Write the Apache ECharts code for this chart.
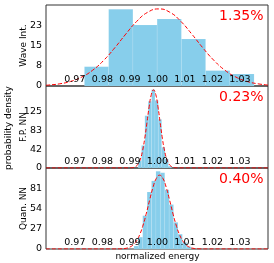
<!DOCTYPE html>
<html>
<head>
<meta charset="utf-8">
<script src="https://cdn.jsdelivr.net/npm/echarts@6/dist/echarts.min.js"></script>
<style>html,body{margin:0;padding:0;background:#fff}#c{width:274px;height:263px}</style>
</head>
<body>
<div id="c"></div>
<script>
// ---- data ----
const energyTicks = [0.97, 0.98, 0.99, 1.00, 1.01, 1.02, 1.03];
const panelNames = ['Wave Int.', 'F.P. NN', 'Quan. NN'];
const panelErrors = ['1.35%', '0.23%', '0.40%'];

const waveTicks = [0, 7.667, 15.333, 23];
const fpTicks = [0, 41.667, 83.333, 125];
const quanTicks = [0, 27, 54, 81];

const waveBinEdges = [0.97347, 0.98228, 0.99109, 0.99990, 1.00871, 1.01752, 1.02633, 1.03514];
const waveDensity = [7.4, 29.4, 23.4, 25.7, 18.0, 5.9, 4.6];

const fpBinEdges = [0.99300, 0.99422, 0.99544, 0.99666, 0.99788, 0.99910, 1.00032, 1.00154, 1.00276, 1.00398, 1.00520];
const fpDensity = [16, 50, 116, 148, 174, 150, 108, 46, 20, 4];

const quanBinEdges = [0.99146, 0.99306, 0.99466, 0.99626, 0.99786, 0.99946, 1.00106, 1.00266, 1.00426, 1.00586, 1.00746, 1.00906, 1.01066, 1.01226];
const quanDensity = [4, 16, 45, 77, 92, 105, 103, 80, 60, 36, 20, 9, 3];

const waveFitX = [0.9595, 0.9605, 0.9645, 0.9685, 0.9725, 0.9765, 0.9805, 0.9845, 0.9885, 0.9925, 0.9965, 1.0005, 1.0045, 1.0085, 1.0125, 1.0165, 1.0205, 1.0245, 1.0285, 1.0325, 1.0365, 1.0402];
const waveFitY = [0.29, 0.37, 0.84, 1.78, 3.44, 6.08, 9.86, 14.64, 19.90, 24.79, 28.28, 29.55, 28.28, 24.79, 19.90, 14.64, 9.86, 6.08, 3.44, 1.78, 0.84, 0.39];

const fpFitX = [0.9595, 0.9896, 0.9906, 0.9914, 0.9922, 0.9930, 0.9938, 0.9946, 0.9954, 0.9962, 0.9970, 0.9978, 0.9986, 0.9994, 1.0002, 1.0010, 1.0018, 1.0026, 1.0034, 1.0042, 1.0050, 1.0058, 1.0066, 1.0076, 1.0402];
const fpFitY = [0, 0.08, 0.41, 1.29, 3.61, 8.95, 19.6, 38.2, 65.9, 100.6, 136.1, 163.2, 173.4, 163.2, 136.1, 100.6, 65.9, 38.2, 19.6, 8.95, 3.61, 1.29, 0.41, 0.08, 0];

const quanFitX = [0.9595, 0.9838, 0.9868, 0.9888, 0.9900, 0.9912, 0.9924, 0.9936, 0.9948, 0.9960, 0.9972, 0.9984, 0.9996, 1.0008, 1.0020, 1.0032, 1.0044, 1.0056, 1.0068, 1.0080, 1.0092, 1.0104, 1.0116, 1.0128, 1.0148, 1.0178, 1.0402];
const quanFitY = [0, 0.01, 0.22, 1.1, 2.6, 5.6, 11.0, 19.7, 32.4, 48.5, 66.5, 83.3, 95.3, 99.7, 95.3, 83.3, 66.5, 48.5, 32.4, 19.7, 11.0, 5.6, 2.6, 1.1, 0.22, 0.01, 0];

// ---- build ----
const FONT = 'DejaVu Sans';
const xMin = 0.9595, xMax = 1.0402;
const yMaxes = [31.05, 182, 109.4];
const yTickSets = [waveTicks, fpTicks, quanTicks];
const binEdges = [waveBinEdges, fpBinEdges, quanBinEdges];
const densities = [waveDensity, fpDensity, quanDensity];
const fitX = [waveFitX, fpFitX, quanFitX];
const fitY = [waveFitY, fpFitY, quanFitY];
const grids = [
  {top: 5, height: 81},
  {top: 86, height: 82},
  {top: 168, height: 81}
];

const chart = echarts.init(document.getElementById('c'), null, {renderer: 'canvas'});

const series = [];
for (let i = 0; i < 3; i++) {
  const bars = densities[i].map((h, k) => [binEdges[i][k], binEdges[i][k + 1], h]);
  series.push({
    type: 'custom',
    xAxisIndex: i, yAxisIndex: i,
    z: 2,
    data: bars,
    renderItem: function (params, api) {
      const p0 = api.coord([api.value(0), api.value(2)]);
      const p1 = api.coord([api.value(1), 0]);
      return {
        type: 'rect',
        shape: {x: p0[0], y: p0[1], width: p1[0] - p0[0], height: p1[1] - p0[1]},
        style: {fill: '#87CEEB', stroke: 'rgba(255,255,255,0.2)', lineWidth: 0.5}
      };
    }
  });
  series.push({
    type: 'line',
    xAxisIndex: i, yAxisIndex: i,
    z: 3,
    data: fitX[i].map((x, k) => [x, fitY[i][k]]),
    showSymbol: false,
    symbol: 'none',
    smooth: 0.5,
    lineStyle: {color: '#ff0000', width: 1, type: [4, 2]},
    clip: true
  });
}

const graphic = [];
for (let i = 0; i < 3; i++) {
  const g = grids[i];
  graphic.push({
    type: 'text', x: 263.5, y: g.top + 11.8, z: 100,
    style: {text: panelErrors[i], fill: '#ff0000', font: '14px "' + FONT + '"', align: 'right', verticalAlign: 'middle'}
  });
  graphic.push({
    type: 'text', x: 23.5, y: g.top + g.height / 2, rotation: Math.PI / 2, z: 100,
    style: {text: panelNames[i], fill: '#000', font: '9px "' + FONT + '"', align: 'center', verticalAlign: 'middle'}
  });
}
graphic.push({
  type: 'text', x: 8.5, y: 128, rotation: Math.PI / 2, z: 100,
  style: {text: 'probability density', fill: '#000', font: '9px "' + FONT + '"', align: 'center', verticalAlign: 'middle'}
});
graphic.push({
  type: 'text', x: 157.5, y: 256.5, z: 100,
  style: {text: 'normalized energy', fill: '#000', font: '9px "' + FONT + '"', align: 'center', verticalAlign: 'middle'}
});

const option = {
  animation: false,
  backgroundColor: '#fff',
  grid: grids.map(g => ({left: 46, top: g.top, width: 222, height: g.height, show: true, borderColor: '#333', borderWidth: 1, backgroundColor: 'transparent'})),
  xAxis: [0, 1, 2].map(i => ({
    type: 'value', gridIndex: i, min: xMin, max: xMax, z: 10,
    axisLine: {show: false}, axisTick: {show: false}, splitLine: {show: false},
    axisLabel: {
      inside: true, margin: 1, customValues: energyTicks,
      formatter: v => v.toFixed(2),
      fontSize: 9.5, fontFamily: FONT, color: '#000'
    }
  })),
  yAxis: [0, 1, 2].map(i => ({
    type: 'value', gridIndex: i, min: 0, max: yMaxes[i],
    axisLine: {show: false}, axisTick: {show: false}, splitLine: {show: false},
    axisLabel: {
      margin: 4, customValues: yTickSets[i],
      formatter: v => String(Math.round(v)),
      fontSize: 9.5, fontFamily: FONT, color: '#000'
    }
  })),
  series: series,
  graphic: graphic
};
chart.setOption(option);
</script>
</body>
</html>
